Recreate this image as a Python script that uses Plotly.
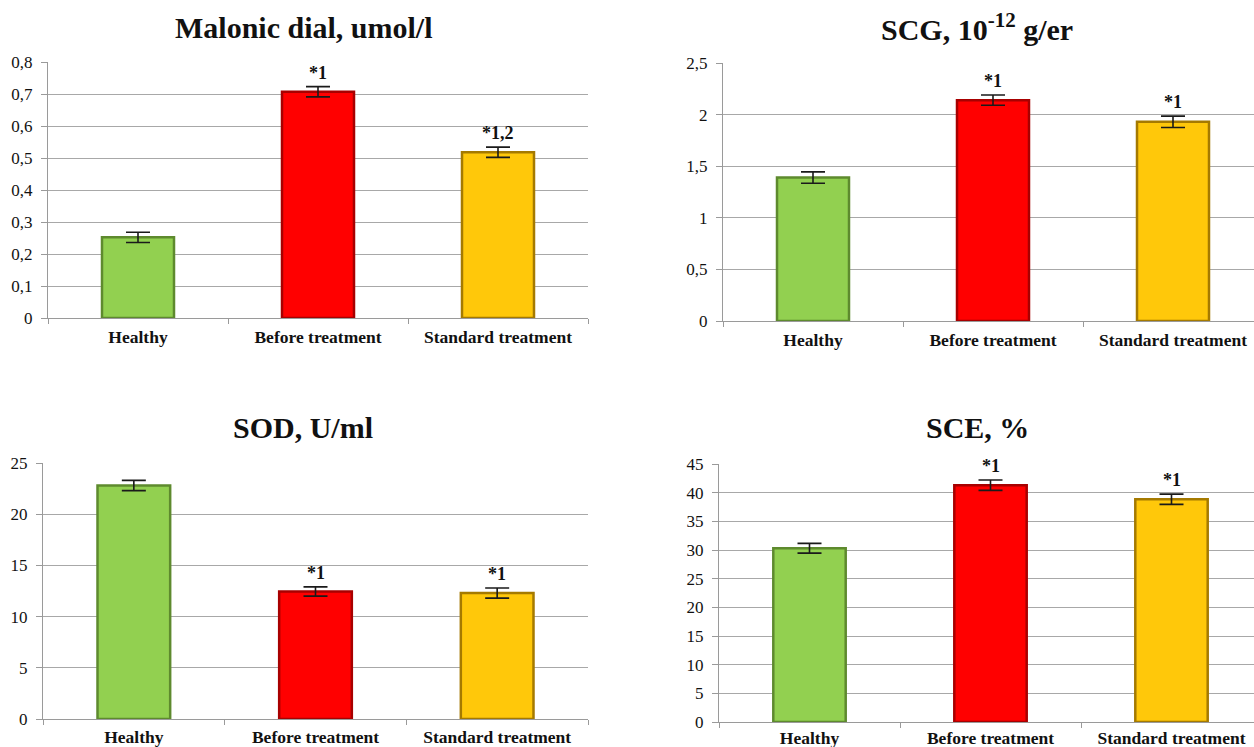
import plotly.graph_objects as go

W, H = 1254, 747

categories = ["Healthy", "Before treatment", "Standard treatment"]

mda_values = [0.252, 0.707, 0.518]
mda_errors = [0.016, 0.016, 0.016]
mda_marks = ["", "*1", "*1,2"]

scg_values = [1.39, 2.14, 1.93]
scg_errors = [0.055, 0.05, 0.055]
scg_marks = ["", "*1", "*1"]

sod_values = [22.8, 12.45, 12.3]
sod_errors = [0.5, 0.45, 0.5]
sod_marks = ["", "*1", "*1"]

sce_values = [30.3, 41.3, 38.85]
sce_errors = [0.85, 0.9, 0.9]
sce_marks = ["", "*1", "*1"]

titles = ["Malonic dial, umol/l", "SCG, 10<sup>-12</sup> g/er", "SOD, U/ml", "SCE, %"]

bar_colors = ["#92D050", "#FF0000", "#FFC80A"]
edge_colors = ["#5E8A2E", "#A80000", "#A57A00"]

FONT = "Liberation Serif"

# pixel geometry of each panel: left, right(full category span), top, bottom
panels = [
    dict(vals=mda_values, errs=mda_errors, marks=mda_marks, ymax=0.8, dtick=0.1,
         px=(48, 588, 62, 318), title_xy=(304, 27), clip_right=None, standoff=3),
    dict(vals=scg_values, errs=scg_errors, marks=scg_marks, ymax=2.5, dtick=0.5,
         px=(723, 1263, 63, 321), title_xy=(977, 27), clip_right=1254, standoff=3),
    dict(vals=sod_values, errs=sod_errors, marks=sod_marks, ymax=25, dtick=5,
         px=(43, 588, 463, 719), title_xy=(303, 427), clip_right=None, standoff=2),
    dict(vals=sce_values, errs=sce_errors, marks=sce_marks, ymax=45, dtick=5,
         px=(719, 1262, 464, 722), title_xy=(977, 427), clip_right=1254, standoff=0),
]

fig = go.Figure()
annotations = []
layout_axes = {}

for i, p in enumerate(panels):
    n = "" if i == 0 else str(i + 1)
    xa, ya = "x" + n, "y" + n
    left, right, top, bottom = p["px"]
    xr = [-0.5, 2.5]
    r_px = right
    if p["clip_right"] is not None and right > p["clip_right"]:
        cat_w = (right - left) / 3.0
        xr = [-0.5, 2.5 - (right - p["clip_right"]) / cat_w]
        r_px = p["clip_right"]

    fig.add_trace(go.Bar(
        x=categories, y=p["vals"], xaxis=xa, yaxis=ya,
        width=0.4,
        marker=dict(color=bar_colors, line=dict(color=edge_colors, width=2.5)),
        error_y=dict(type="data", array=p["errs"], visible=True,
                     color="#1a1a1a", thickness=1.6, width=12),
        showlegend=False, hoverinfo="x+y",
    ))

    for c, v, e, m in zip(categories, p["vals"], p["errs"], p["marks"]):
        if m:
            annotations.append(dict(
                x=c, y=v + e, xref=xa, yref=ya, text="<b>" + m + "</b>", showarrow=False,
                yanchor="bottom", yshift=2,
                font=dict(family=FONT, size=18, color="#111111"),
            ))

    tx, ty = p["title_xy"]
    annotations.append(dict(
        x=tx / W, y=1 - ty / H, xref="paper", yref="paper", text="<b>" + titles[i] + "</b>",
        showarrow=False, xanchor="center", yanchor="middle",
        font=dict(family=FONT, size=30, color="#111111"),
    ))

    key_x = "xaxis" + n
    key_y = "yaxis" + n
    layout_axes[key_x] = dict(
        domain=[left / W, r_px / W], anchor=ya, range=xr, type="category",
        showline=True, linecolor="#9a9a9a", linewidth=1,
        ticks="outside", tickson="boundaries", ticklen=5, tickcolor="#9a9a9a",
        showgrid=False, zeroline=False, automargin=False,
        tickmode="array", tickvals=categories,
        ticktext=["<b>" + c + "</b>" for c in categories],
        tickfont=dict(family=FONT, size=17.5, color="#111111"),
        ticklabelstandoff=p["standoff"],
        fixedrange=True,
    )
    layout_axes[key_y] = dict(
        domain=[1 - bottom / H, 1 - top / H], anchor=xa,
        range=[0, p["ymax"]], dtick=p["dtick"], tick0=0,
        showline=True, linecolor="#9a9a9a", linewidth=1,
        ticks="outside", ticklen=6, tickcolor="#9a9a9a",
        showgrid=True, gridcolor="#a8a8a8", gridwidth=1, zeroline=False,
        automargin=False,
        tickfont=dict(family=FONT, size=17, color="#111111"),
        ticklabelstandoff=5,
        fixedrange=True,
    )

fig.update_layout(
    width=W, height=H,
    margin=dict(l=0, r=0, t=0, b=0, autoexpand=False),
    paper_bgcolor="white", plot_bgcolor="white",
    font=dict(family=FONT),
    separators=", ",
    annotations=annotations,
    **layout_axes,
)

fig.write_html("out.html",
               config={"displayModeBar": False},
               post_script="document.body.style.margin='0';document.body.style.padding='0';")
